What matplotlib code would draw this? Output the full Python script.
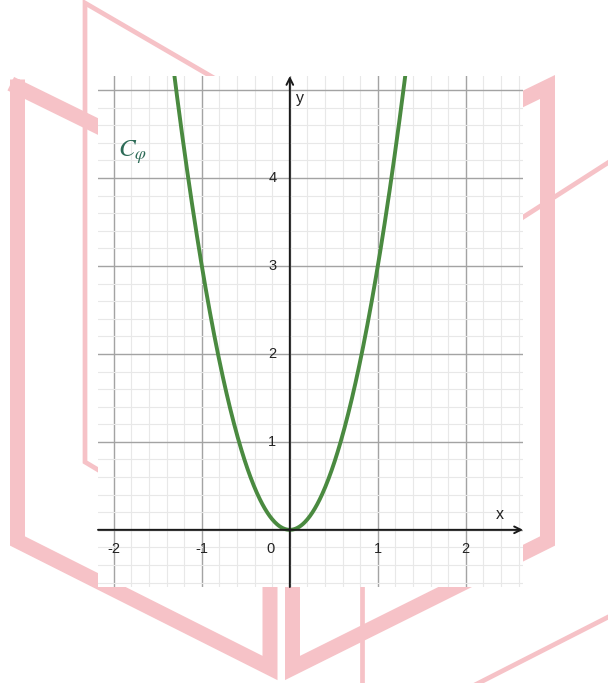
import numpy as np
import matplotlib.pyplot as plt
from matplotlib.ticker import MultipleLocator
from matplotlib.lines import Line2D

coef_a = 3.0
curve_label = r'$C_\varphi$'

x_min, x_max = -2.18, 2.65
y_min, y_max = -0.65, 5.16

x_ticks = [-2, -1, 0, 1, 2]
x_tick_labels = ['-2', '-1', '0', '1', '2']
y_ticks = [1, 2, 3, 4]
y_tick_labels = ['1', '2', '3', '4']

W, H = 608, 683
fig = plt.figure(figsize=(W / 100, H / 100), dpi=100)
plt.rcParams['mathtext.fontset'] = 'stix'

# pink book watermark behind the graph (pixel coords, y from top)
pink = '#f6c2c7'
def px(pts):
    pts = np.array(pts, dtype=float)
    return pts[:, 0] / W, 1 - pts[:, 1] / H

thick = [
    [(17.5, 87), (270, 211), (270, 668), (17.5, 541), (17.5, 87)],
    [(292.5, 211), (547.5, 87), (547.5, 541), (292.5, 668), (292.5, 211)],
]
thin = [
    [(110, 477), (85, 462), (85, 3), (300, 128)],
    [(362, 560), (362, 690)],
    [(465, 690), (620, 611)],
    [(500, 232), (620, 155)],
]
for seg in thick:
    xs, ys = px(seg)
    fig.add_artist(Line2D(xs, ys, color=pink, lw=10.8, solid_joinstyle='miter',
                          zorder=-1, transform=fig.transFigure))
for seg in thin:
    xs, ys = px(seg)
    fig.add_artist(Line2D(xs, ys, color=pink, lw=3.4, solid_joinstyle='miter',
                          zorder=-1, transform=fig.transFigure))

# graph area
ax = fig.add_axes([98 / W, 1 - 587 / H, 425 / W, 511 / H])
ax.set_facecolor('white')
ax.set_xlim(x_min, x_max)
ax.set_ylim(y_min, y_max)
for s in ax.spines.values():
    s.set_visible(False)

ax.xaxis.set_major_locator(MultipleLocator(1))
ax.yaxis.set_major_locator(MultipleLocator(1))
ax.xaxis.set_minor_locator(MultipleLocator(0.2))
ax.yaxis.set_minor_locator(MultipleLocator(0.2))
ax.grid(which='minor', color='#e8e8e8', lw=0.8)
ax.grid(which='major', color='#a3a3a3', lw=1.0)
ax.tick_params(which='both', length=0, labelbottom=False, labelleft=False)
ax.set_axisbelow(True)

# axes with arrows
arr = dict(arrowstyle='->', lw=1.4, color='#1a1a1a', shrinkA=0, shrinkB=0,
           mutation_scale=12)
ax.annotate('', xy=(x_max, 0), xytext=(x_min, 0), arrowprops=arr)
ax.annotate('', xy=(0, y_max), xytext=(0, y_min), arrowprops=arr)

for xv, lab in zip(x_ticks, x_tick_labels):
    xp = -0.22 if xv == 0 else xv
    ax.text(xp, -0.22, lab, ha='center', va='center', fontsize=10.5,
            color='#222222', family='Liberation Sans')
for yv, lab in zip(y_ticks, y_tick_labels):
    ax.text(-0.2, yv, lab, ha='center', va='center', fontsize=10.5,
            color='#222222', family='Liberation Sans')
ax.text(2.39, 0.17, 'x', ha='center', va='center', fontsize=11.5, color='#222222',
        family='Liberation Sans')
ax.text(0.12, 4.9, 'y', ha='center', va='center', fontsize=11.5, color='#222222',
        family='Liberation Sans')

xs = np.linspace(-1.4, 1.4, 400)
ax.plot(xs, coef_a * xs ** 2, color='#4a8a40', lw=2.8, solid_capstyle='butt')
ax.text(-1.95, 4.3, curve_label, ha='left', va='center', fontsize=18,
        color='#2d6b57')

fig.savefig('out.png', dpi=100)
